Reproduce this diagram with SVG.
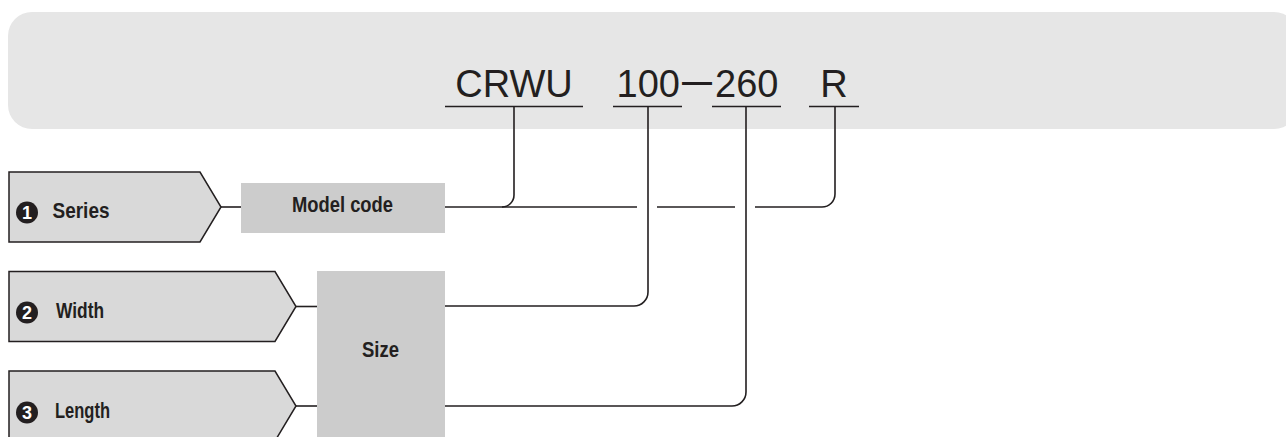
<svg xmlns="http://www.w3.org/2000/svg" width="1286" height="437" viewBox="0 0 1286 437">
<style>
.ln{fill:none;stroke:#231f20;stroke-width:1.6;}
.tab{fill:#d9d9d9;stroke:#231f20;stroke-width:1.5;}
.box{fill:#cccccc;}
.code{font-family:"Liberation Sans",Arial,sans-serif;font-size:38px;fill:#231f20;}
.lbl{font-family:"Liberation Sans",Arial,sans-serif;font-size:22px;font-weight:bold;fill:#231f20;}
.num{font-family:"Liberation Sans",Arial,sans-serif;font-size:18px;font-weight:bold;fill:#ffffff;text-anchor:middle;}
.dot{fill:#231f20;}
</style>
<g id="banner">
<rect x="8" y="12" width="1290" height="117" rx="24" fill="#e6e6e6"/>
<text class="code" x="514" y="97" text-anchor="middle">CRWU</text>
<text class="code" y="97"><tspan x="616.5" y="97">100</tspan><tspan x="682" y="91.5" font-size="30" font-weight="bold">—</tspan><tspan x="715" y="97">260</tspan></text>
<text class="code" x="834" y="97" text-anchor="middle">R</text>
<g class="ln">
<line x1="445" y1="106.5" x2="583" y2="106.5"/>
<line x1="613" y1="106.5" x2="682" y2="106.5"/>
<line x1="712" y1="106.5" x2="781" y2="106.5"/>
<line x1="809" y1="106.5" x2="859" y2="106.5"/>
</g>
</g>
<g id="series">
<polygon class="tab" points="9,172 200,172 221,207 200,242 9,242"/>
<circle class="dot" cx="27" cy="212.5" r="11"/>
<text class="num" x="27" y="219">1</text>
<text class="lbl" x="52.5" y="218" textLength="57" lengthAdjust="spacingAndGlyphs">Series</text>
</g>
<g id="width">
<polygon class="tab" points="9,271.5 275,271.5 296,306.5 275,341.5 9,341.5"/>
<circle class="dot" cx="27" cy="312.5" r="11"/>
<text class="num" x="27" y="319">2</text>
<text class="lbl" x="56" y="318" textLength="48" lengthAdjust="spacingAndGlyphs">Width</text>
</g>
<g id="length">
<polygon class="tab" points="9,371 275,371 296,406 275,441 9,441"/>
<circle class="dot" cx="27" cy="412.5" r="11"/>
<text class="num" x="27" y="419">3</text>
<text class="lbl" x="55" y="418" textLength="55" lengthAdjust="spacingAndGlyphs">Length</text>
</g>
<g id="model-code">
<rect class="box" x="241" y="183" width="204" height="50"/>
<text class="lbl" x="292" y="212" textLength="101" lengthAdjust="spacingAndGlyphs">Model code</text>
</g>
<g id="size">
<rect class="box" x="317" y="271" width="128" height="170"/>
<text class="lbl" x="362" y="357" textLength="37" lengthAdjust="spacingAndGlyphs">Size</text>
</g>
<g id="connectors" class="ln">
<line x1="221" y1="207" x2="241" y2="207"/>
<line x1="296" y1="306.5" x2="317" y2="306.5"/>
<line x1="296" y1="406" x2="317" y2="406"/>
<path d="M514,106.5 V195 A12,12 0 0 1 502,207"/>
<path d="M445,207 H637"/>
<path d="M657,207 H735"/>
<path d="M755,207 H822 A13,13 0 0 0 835,194 V106.5"/>
<path d="M445,306 H634 A14,14 0 0 0 648,292 V106.5"/>
<path d="M445,406 H732 A14,14 0 0 0 746,392 V106.5"/>
</g>
</svg>
